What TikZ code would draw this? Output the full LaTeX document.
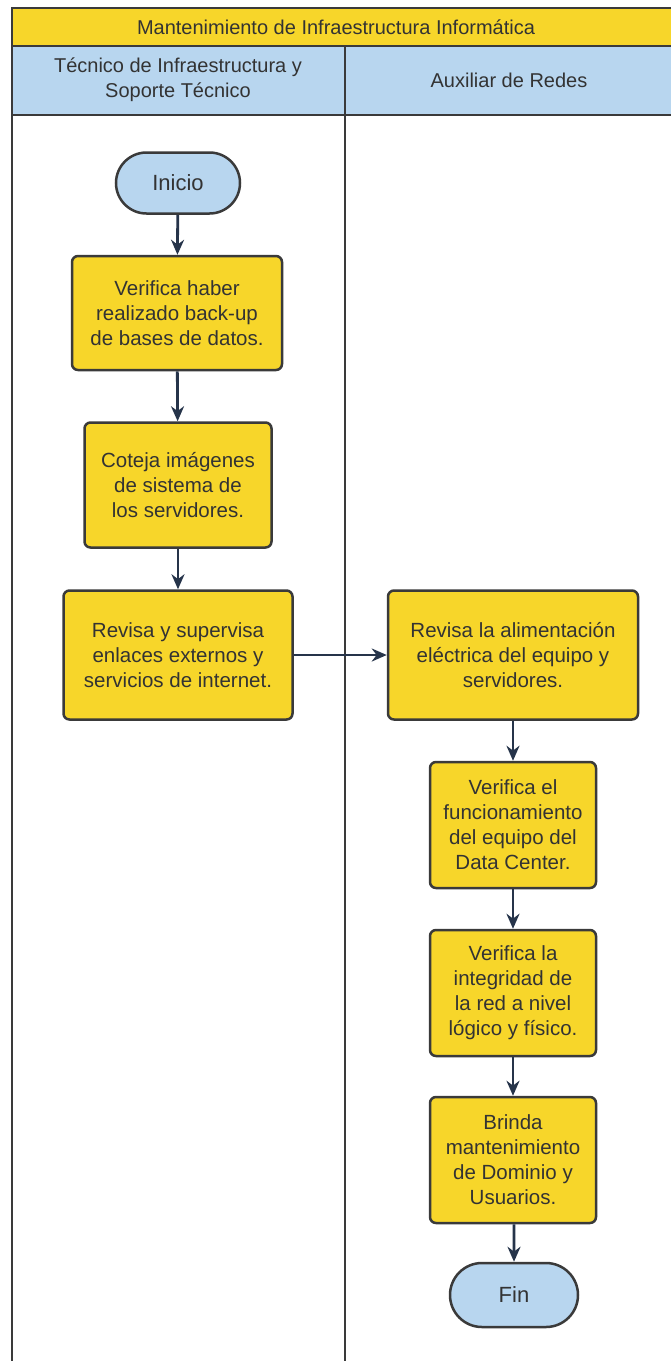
\documentclass[tikz,border=0pt]{standalone}
\usepackage{fontspec}
\setmainfont{Liberation Sans}
\usetikzlibrary{arrows.meta,shapes.misc}
\definecolor{ylw}{HTML}{F7D62A}
\definecolor{lblue}{HTML}{B8D6EF}
\definecolor{edge}{HTML}{3A3A3A}
\definecolor{navy}{HTML}{26344A}
\definecolor{txt}{HTML}{333333}
\tikzset{
  stepbox/.style={draw=edge, line width=2.5pt, fill=ylw, rounded corners=6pt, align=center, text=txt, font=\fontsize{20.5}{25}\selectfont, inner sep=0pt},
  term/.style={draw=edge, line width=2.5pt, fill=lblue, rounded rectangle, align=center, text=txt, font=\fontsize{22}{26}\selectfont, inner sep=0pt},
  flow/.style={draw=navy, line width=2.8pt, -{Stealth[length=15pt,width=13pt]}},
  lane/.style={draw=edge, line width=2pt},
  hdr/.style={text=txt, font=\fontsize{20}{25}\selectfont, align=center}
}
\begin{document}
\begin{tikzpicture}[x=1pt,y=-1pt]
\useasboundingbox (0,0) rectangle (671,1361);
% pool
\fill[white] (0,0) rectangle (671,1361);
\fill[ylw] (12,8) rectangle (690,46);
\fill[lblue] (12,46) rectangle (690,115);
\draw[lane] (690,8) -- (12,8) -- (12,1370);
\draw[lane] (12,46) -- (690,46);
\draw[lane] (12,115) -- (690,115);
\draw[lane] (345,46) -- (345,1370);
\node[hdr] (title) at (336,27) {Mantenimiento de Infraestructura Informática};
\node[hdr] (lane1) at (178,80) {Técnico de Infraestructura y\\Soporte Técnico};
\node[hdr] (lane2) at (509,80) {Auxiliar de Redes};
% nodes
\node[term, minimum width=124pt, minimum height=61pt] (inicio) at (178,183) {Inicio};
\node[stepbox, minimum width=210pt, minimum height=114pt] (b1) at (177,313) {Verifica haber\\realizado back-up\\de bases de datos.};
\node[stepbox, minimum width=187pt, minimum height=125pt] (b2) at (178,485) {Coteja imágenes\\de sistema de\\los servidores.};
\node[stepbox, minimum width=229pt, minimum height=129pt] (b3) at (178,655) {Revisa y supervisa\\enlaces externos y\\servicios de internet.};
\node[stepbox, minimum width=250pt, minimum height=129pt] (r1) at (513,655) {Revisa la alimentación\\eléctrica del equipo y\\servidores.};
\node[stepbox, minimum width=166pt, minimum height=126pt] (r2) at (513,825) {Verifica el\\funcionamiento\\del equipo del\\Data Center.};
\node[stepbox, minimum width=166pt, minimum height=126pt] (r3) at (513,993) {Verifica la\\integridad de\\la red a nivel\\lógico y físico.};
\node[stepbox, minimum width=166pt, minimum height=126pt] (r4) at (513,1160) {Brinda\\mantenimiento\\de Dominio y\\Usuarios.};
\node[term, minimum width=128pt, minimum height=64pt] (fin) at (514,1295) {Fin};
% connectors
\draw[flow] (inicio) -- (b1);
\draw[flow] (b1) -- (b2);
\draw[flow] (b2) -- (b3);
\draw[flow] (b3) -- (r1);
\draw[flow] (r1.south -| r2.north) -- (r2);
\draw[flow] (r2) -- (r3);
\draw[flow] (r3) -- (r4);
\draw[flow] (r4.south -| fin.north) -- (fin);
\end{tikzpicture}
\end{document}
